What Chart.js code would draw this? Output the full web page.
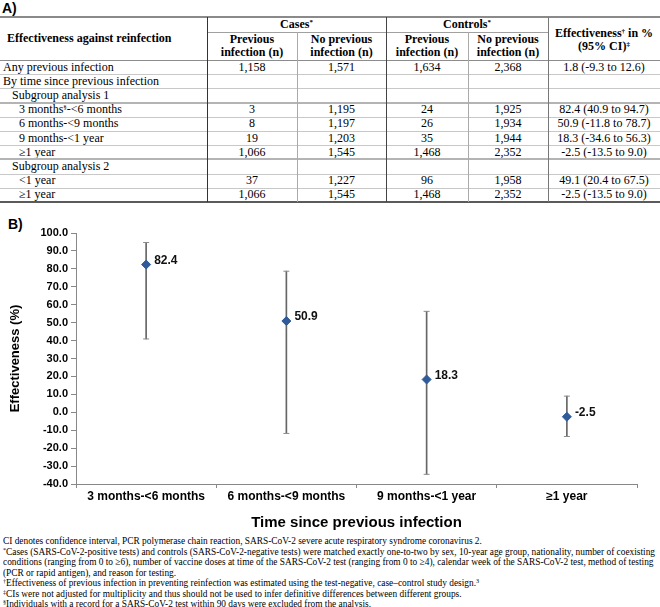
<!DOCTYPE html>
<html><head><meta charset="utf-8">
<script src="https://cdn.jsdelivr.net/npm/chart.js@4.4.1/dist/chart.umd.min.js"></script>
<style>
html,body{margin:0;padding:0;background:#fff;}
body{width:660px;height:607px;position:relative;overflow:hidden;}
.t{position:absolute;font-family:"Liberation Serif","Times New Roman",serif;font-size:12px;color:#000;white-space:nowrap;display:flex;align-items:center;}
.t span{line-height:13px;}
.c{justify-content:center;text-align:center;}
.b{font-weight:bold;}
.ln{position:absolute;}
sup{font-size:7px;line-height:0;vertical-align:4px;}
.lbl{position:absolute;font-family:"Liberation Sans",Arial,sans-serif;font-weight:bold;font-size:14px;color:#000;}
#foot{position:absolute;left:3px;top:536px;font-family:"Liberation Serif","Times New Roman",serif;font-size:10px;line-height:10.5px;color:#000;white-space:nowrap;transform-origin:0 0;}
#foot div{display:inline-block;clear:both;float:left;}
#foot sup{font-size:6.5px;vertical-align:3px;}
#chartBox{position:absolute;left:0;top:215px;width:660px;height:320px;}
</style>
</head><body>
<div class="lbl" style="left:2px;top:0px;">A)</div>
<div class="lbl" style="left:8px;top:216px;">B)</div>
<div id="tbl"></div>
<div id="chartBox"><canvas id="c" width="660" height="320"></canvas></div>
<div id="foot">
<div>CI denotes confidence interval, PCR polymerase chain reaction, SARS-CoV-2 severe acute respiratory syndrome coronavirus 2.</div>
<div id="fl2"><sup>*</sup>Cases (SARS-CoV-2-positive tests) and controls (SARS-CoV-2-negative tests) were matched exactly one-to-two by sex, 10-year age group, nationality, number of coexisting</div>
<div>conditions (ranging from 0 to ≥6), number of vaccine doses at time of the SARS-CoV-2 test (ranging from 0 to ≥4), calendar week of the SARS-CoV-2 test, method of testing</div>
<div>(PCR or rapid antigen), and reason for testing.</div>
<div><sup>†</sup>Effectiveness of previous infection in preventing reinfection was estimated using the test-negative, case–control study design.<sup>3</sup></div>
<div><sup>‡</sup>CIs were not adjusted for multiplicity and thus should not be used to infer definitive differences between different groups.</div>
<div><sup>§</sup>Individuals with a record for a SARS-CoV-2 test within 90 days were excluded from the analysis.</div>
</div>
<script>
// ---------- Data ----------
const categories = ["3 months-<6 months", "6 months-<9 months", "9 months-<1 year", "≥1 year"];
const effectiveness = [82.4, 50.9, 18.3, -2.5];
const ciLower = [40.9, -11.8, -34.6, -13.5];
const ciUpper = [94.7, 78.7, 56.3, 9.0];

const rowLabels = ["Any previous infection", "By time since previous infection", "Subgroup analysis 1",
  "3 months<sup>§</sup>-&lt;6 months", "6 months-&lt;9 months", "9 months-&lt;1 year", "≥1 year",
  "Subgroup analysis 2", "&lt;1 year", "≥1 year"];
const rowLevels = [0, 0, 1, 2, 2, 2, 2, 1, 2, 2];
const casesPrev = ["1,158", "", "", "3", "8", "19", "1,066", "", "37", "1,066"];
const casesNoPrev = ["1,571", "", "", "1,195", "1,197", "1,203", "1,545", "", "1,227", "1,545"];
const controlsPrev = ["1,634", "", "", "24", "26", "35", "1,468", "", "96", "1,468"];
const controlsNoPrev = ["2,368", "", "", "1,925", "1,934", "1,944", "2,352", "", "1,958", "2,352"];
const effText = ["1.8 (-9.3 to 12.6)", "", "", "82.4 (40.9 to 94.7)", "50.9 (-11.8 to 78.7)", "18.3 (-34.6 to 56.3)",
  "-2.5 (-13.5 to 9.0)", "", "49.1 (20.4 to 67.5)", "-2.5 (-13.5 to 9.0)"];

// ---------- Table ----------
const tbl = document.getElementById('tbl');
const colX = [0, 207, 297, 386, 468, 548, 660];
const indent = [3, 12, 19];
function cell(html, x, y, w, h, cls, padL) {
  const d = document.createElement('div');
  d.className = 't ' + (cls || '');
  d.style.left = x + 'px'; d.style.top = y + 'px';
  d.style.width = w + 'px'; d.style.height = h + 'px';
  if (padL) d.style.paddingLeft = padL + 'px';
  d.innerHTML = '<span>' + html + '</span>';
  tbl.appendChild(d);
}
function line(x, y, w, h, color) {
  const d = document.createElement('div');
  d.className = 'ln';
  d.style.left = x + 'px'; d.style.top = y + 'px';
  d.style.width = w + 'px'; d.style.height = h + 'px';
  d.style.background = color;
  tbl.appendChild(d);
}
// header
cell('Effectiveness against reinfection', 0, 17, 207, 43, 'b', 7);
cell('Cases<sup>*</sup>', colX[1], 17, colX[3] - colX[1], 15, 'b c');
cell('Controls<sup>*</sup>', colX[3], 17, colX[5] - colX[3], 15, 'b c');
const sub = ['Previous<br>infection (n)', 'No previous<br>infection (n)', 'Previous<br>infection (n)', 'No previous<br>infection (n)'];
for (let i = 0; i < 4; i++) cell(sub[i], colX[i + 1], 32, colX[i + 2] - colX[i + 1], 28, 'b c');
cell('Effectiveness<sup>†</sup> in %<br>(95% CI)<sup>‡</sup>', colX[5], 18, colX[6] - colX[5], 43, 'b c');
// body
const rowH = 14.2, bodyTop = 60;
const cols = [casesPrev, casesNoPrev, controlsPrev, controlsNoPrev, effText];
for (let r = 0; r < rowLabels.length; r++) {
  const y = bodyTop + r * rowH;
  cell(rowLabels[r], 0, y, 207, rowH, '', indent[rowLevels[r]]);
  for (let c = 0; c < 5; c++) cell(cols[c][r], colX[c + 1], y, colX[c + 2] - colX[c + 1], rowH, 'c');
}
// lines
for (let r = 1; r < rowLabels.length; r++) {
  const y = Math.round(bodyTop + r * rowH);
  if (r === 3 || r === 7) line(0, y - 1, 660, 2, '#b4b4b4');
  else line(0, y, 660, 1, '#c8c8c8');
}
line(0, 16, 660, 2, '#8a8a8a');
line(colX[1], 32, colX[5] - colX[1], 1, '#a0a0a0');
line(0, 60, 660, 1, '#8c8c8c');
line(0, 201, 660, 2, '#5a5a5a');
line(colX[1], 17, 1, 185, '#333');
line(colX[2], 32, 1, 170, '#aaa');
line(colX[3], 17, 1, 185, '#444');
line(colX[4], 32, 1, 170, '#aaa');
line(colX[5], 17, 1, 185, '#777');

// ---------- Footnotes fit ----------
const fl2 = document.getElementById('fl2');
const foot = document.getElementById('foot');
const k = 652 / fl2.getBoundingClientRect().width;
foot.style.transform = 'scaleX(' + k + ')';

// ---------- Chart ----------
const FONT = '"Liberation Sans", Arial, sans-serif';
const valueLabels = {
  id: 'valueLabels',
  afterDatasetsDraw(chart) {
    const meta = chart.getDatasetMeta(3);
    const ctx = chart.ctx;
    ctx.save();
    ctx.font = 'bold 12px ' + FONT;
    ctx.fillStyle = '#111';
    ctx.textAlign = 'left';
    ctx.textBaseline = 'middle';
    meta.data.forEach((el, i) => ctx.fillText(effectiveness[i].toFixed(1), el.x + 8, el.y - 4));
    ctx.restore();
  }
};
new Chart(document.getElementById('c'), {
  type: 'bar',
  data: {
    labels: categories,
    datasets: [
      { type: 'bar', data: categories.map((_, i) => [ciLower[i], ciUpper[i]]), backgroundColor: '#666', borderWidth: 0, barThickness: 1, order: 3 },
      { type: 'line', data: ciLower, showLine: false, pointStyle: 'line', pointRadius: 3, pointBorderWidth: 1, borderColor: '#8c8c8c', order: 2 },
      { type: 'line', data: ciUpper, showLine: false, pointStyle: 'line', pointRadius: 3, pointBorderWidth: 1, borderColor: '#8c8c8c', order: 2 },
      { type: 'line', data: effectiveness, showLine: false, pointStyle: 'rectRot', pointRadius: 4.5, pointBackgroundColor: '#2f5b9a', pointBorderColor: '#2f5b9a', pointBorderWidth: 1, order: 0 }
    ]
  },
  options: {
    responsive: false, animation: false, devicePixelRatio: 1,
    layout: { padding: { left: 0, right: 23, top: 18, bottom: 0 } },
    plugins: { legend: { display: false }, tooltip: { enabled: false } },
    scales: {
      x: {
        offset: true,
        grid: { display: true, offset: true, drawOnChartArea: false, drawTicks: true, tickLength: 4, color: '#888' },
        border: { color: '#888' },
        ticks: { font: { family: FONT, weight: 'bold', size: 12 }, color: '#000', padding: 1, maxRotation: 0, autoSkip: false },
        title: { display: true, text: 'Time since previous infection', font: { family: FONT, weight: 'bold', size: 15 }, color: '#000', padding: { top: 0, bottom: 3 } },
        afterFit(s) { s.height = 51; }
      },
      y: {
        min: -40, max: 100,
        grid: { drawOnChartArea: false, drawTicks: true, tickLength: 5, color: '#888' },
        border: { color: '#888' },
        ticks: { stepSize: 10, callback: v => v.toFixed(1), font: { family: FONT, weight: 'bold', size: 11 }, color: '#000', padding: 3 },
        title: { display: true, text: 'Effectiveness (%)', font: { family: FONT, weight: 'bold', size: 13 }, color: '#000', padding: { top: 8, bottom: 0 } },
        afterFit(s) { s.width = 76; }
      }
    }
  },
  plugins: [valueLabels]
});
</script>
</body></html>
